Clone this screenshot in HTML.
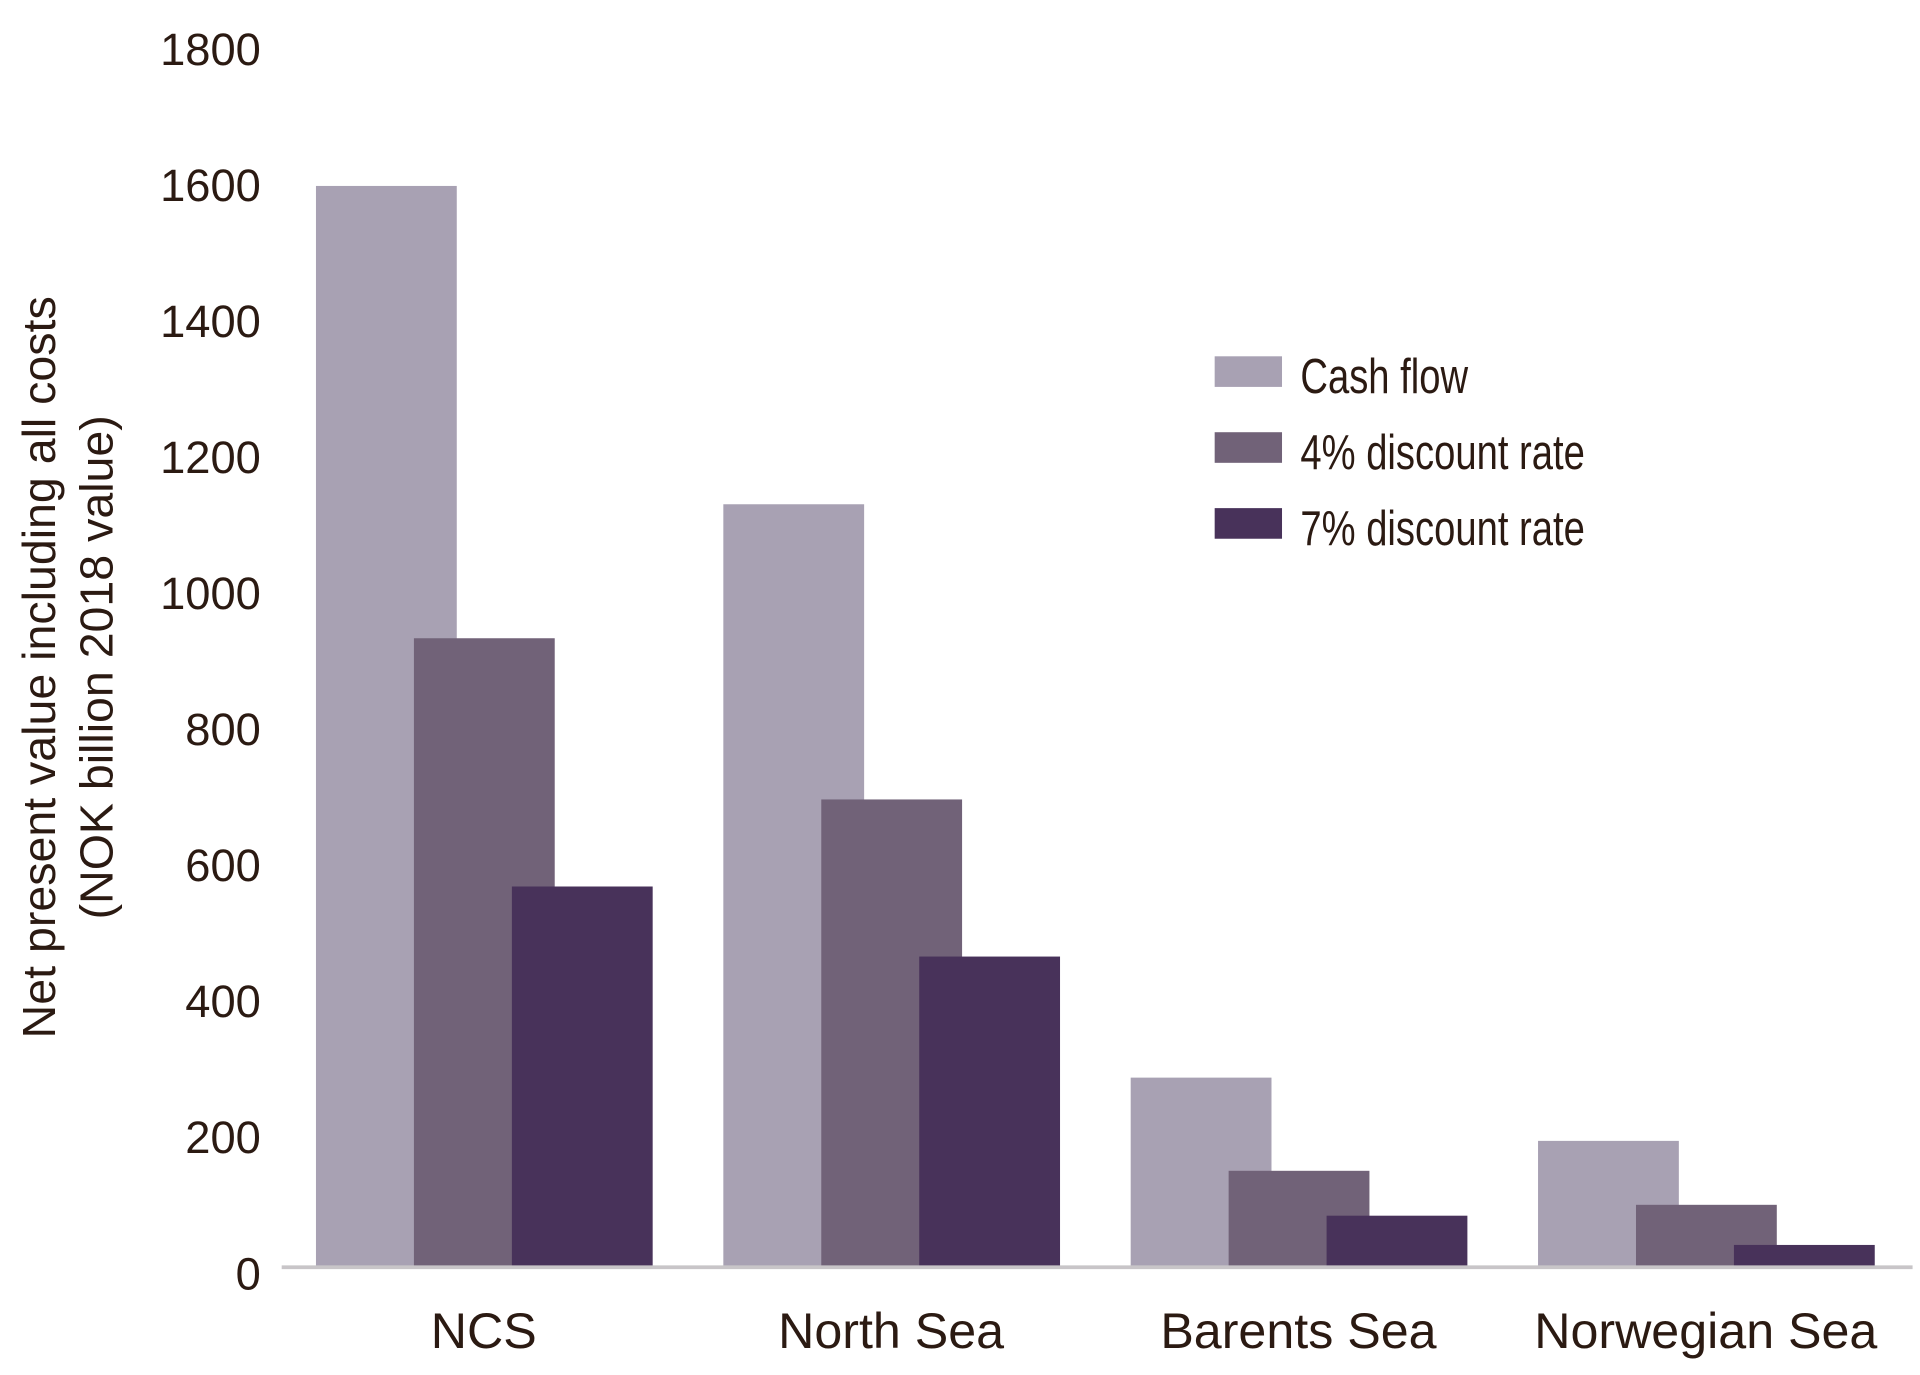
<!DOCTYPE html>
<html><head><meta charset="utf-8"><style>
html,body{margin:0;padding:0;background:#fff}
svg{display:block}
text{font-family:"Liberation Sans",sans-serif;fill:#2b1a12}
</style></head><body>
<svg id="chart" width="1920" height="1375" viewBox="0 0 1568 1123" xmlns="http://www.w3.org/2000/svg">
<g id="yaxis"></g>
<g id="bars"></g>
<line x1="230" y1="1035" x2="1562" y2="1035" stroke="#c8c5c8" stroke-width="3"/>
<g id="xaxis"></g>
<g transform="translate(45,545) rotate(-90)">
<text x="0" y="0" text-anchor="middle" font-size="38">Net present value including all costs</text>
<text x="0" y="47" text-anchor="middle" font-size="38">(NOK billion 2018 value)</text>
</g>
<g id="legend"></g>
</svg>
<script>
const categories=["NCS","North Sea","Barents Sea","Norwegian Sea"];
const seriesNames=["Cash flow","4% discount rate","7% discount rate"];
const cashFlow=[1588,1120,277,184];
const discount4=[923,686,140,90];
const discount7=[558,455,74,31];
const yTicks=[0,200,400,600,800,1000,1200,1400,1600,1800];
const colors=["#a8a1b3","#716278","#48325a"];
const NS="http://www.w3.org/2000/svg";
const y0=1034, pxPer=111.1/200;
function y(v){return y0-v*pxPer;}
const groupX=[258,588,924,1256];
function gx(i){return 258+i*332.7;}
function mk(tag,attrs,parent){const e=document.createElementNS(NS,tag);for(const k in attrs)e.setAttribute(k,attrs[k]);parent.appendChild(e);return e;}
const yaxis=document.getElementById('yaxis');
yTicks.forEach(t=>{
  const e=mk('text',{x:213,y:y(t)+19,'text-anchor':'end','font-size':'37'},yaxis);
  
  
  e.textContent=t;
});
const bars=document.getElementById('bars');
const series=[cashFlow,discount4,discount7];
categories.forEach((c,i)=>{
  series.forEach((s,j)=>{
    const r=mk('rect',{x:gx(i)+j*80,y:y(s[i]),width:115,height:y0-y(s[i]),fill:colors[j]},bars);
    
    
  });
});
const xaxis=document.getElementById('xaxis');
categories.forEach((c,i)=>{
  const e=mk('text',{x:gx(i)+137,y:1101,'text-anchor':'middle','font-size':'41'},xaxis);
  
  
  e.textContent=c;
});
const legend=document.getElementById('legend');
seriesNames.forEach((n,j)=>{
  const ly=291+j*62;
  const r=mk('rect',{x:992,y:ly,width:55,height:25,fill:colors[j]},legend);
  
  
  const t=mk('text',{x:0,y:0,'font-size':'40',transform:'translate(1062,'+(ly+30)+') scale(0.78,1)'},legend);
  
  
  t.textContent=n;
});
</script>
</body></html>
